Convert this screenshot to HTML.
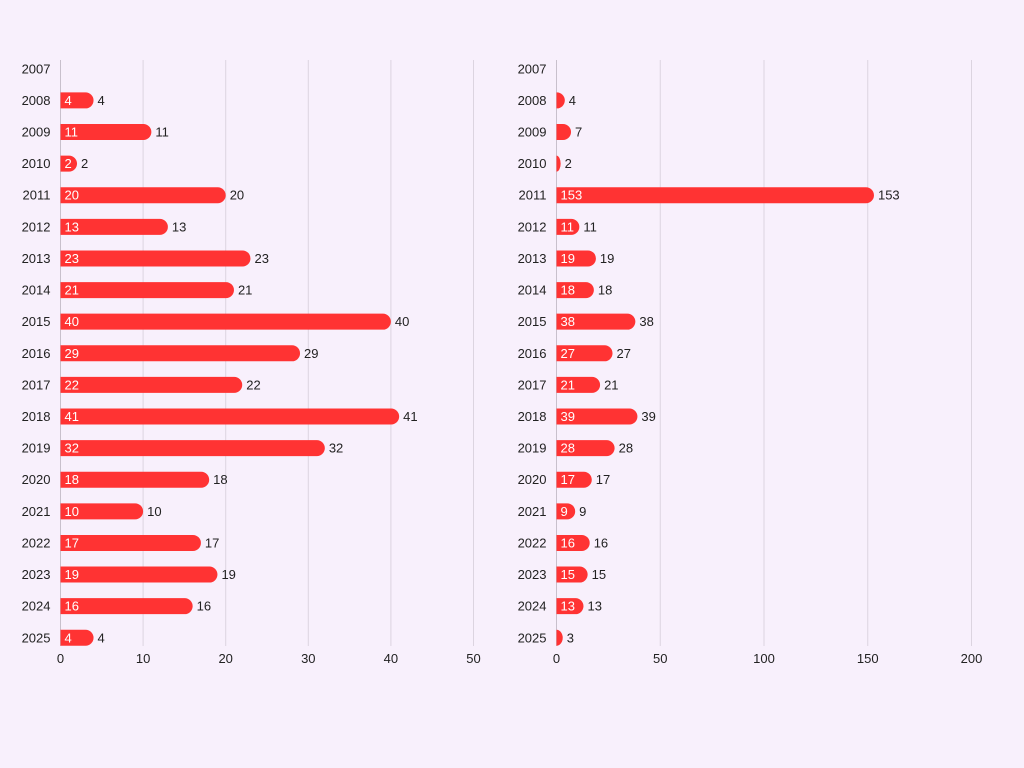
<!DOCTYPE html>
<html><head><meta charset="utf-8"><style>
html,body{margin:0;padding:0;background:#f8f0fc;}
svg{display:block;font-family:"Liberation Sans",sans-serif;}
</style></head><body>
<svg id="s" width="1024" height="768" xmlns="http://www.w3.org/2000/svg"></svg>
<script>
const years=[];for(let y=2007;y<=2025;y++)years.push(y);
const L=[0,4,11,2,20,13,23,21,40,29,22,41,32,18,10,17,19,16,4];
const R=[0,4,7,2,153,11,19,18,38,27,21,39,28,17,9,16,15,13,3];
let h='<rect width="1024" height="768" fill="#f8f0fc"/>';
function chart(x0,scale,ticks,data){
  for(const t of ticks){const x=x0+t*scale;
    h+=`<line x1="${x}" y1="60" x2="${x}" y2="646" stroke="${t==0?'#c8c0cc':'#dcd4e0'}" stroke-width="1"/>`;
    h+=`<text x="${x}" y="663" font-size="13" text-anchor="middle" fill="#222">${t}</text>`;}
  years.forEach((yr,i)=>{const cy=68.8+i*31.61;
    h+=`<text x="${x0-10}" y="${cy+4.5}" font-size="13" text-anchor="end" fill="#222">${yr}</text>`;
    const v=data[i];if(!v)return;const w=v*scale;const r=Math.min(8,w);
    h+=`<path d="M${x0} ${cy-8}H${x0+w-r}A${r} 8 0 0 1 ${x0+w-r} ${cy+8}H${x0}Z" fill="#ff3333"/>`;
    if(w>=16)h+=`<text x="${x0+4}" y="${cy+4.5}" font-size="13" fill="#fff">${v}</text>`;
    h+=`<text x="${x0+w+4}" y="${cy+4.5}" font-size="13" fill="#222">${v}</text>`;
  });
}
chart(60.5,8.26,[0,10,20,30,40,50],L);
chart(556.5,2.075,[0,50,100,150,200],R);
document.getElementById('s').innerHTML=h;
</script>
</body></html>
